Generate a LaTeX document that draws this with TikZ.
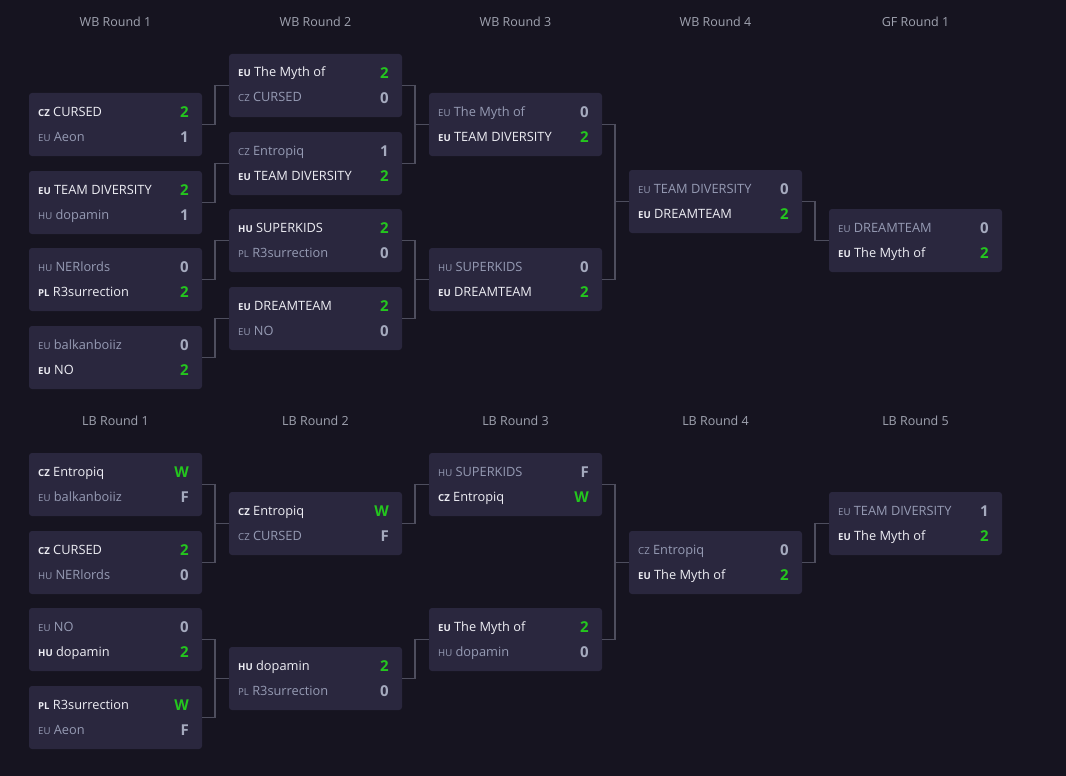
\documentclass[tikz,border=0pt]{standalone}
\usepackage{fontspec}
\setmainfont{Open Sans}
\usetikzlibrary{calc}
\definecolor{bgc}{RGB}{22,20,32}
\definecolor{boxfill}{RGB}{42,39,62}
\definecolor{linec}{RGB}{78,78,94}
\definecolor{wintext}{RGB}{238,238,244}
\definecolor{losetext}{RGB}{150,155,180}
\definecolor{losenum}{RGB}{165,170,190}
\definecolor{wingreen}{RGB}{36,198,30}
\definecolor{headtext}{RGB}{160,163,176}
\tikzset{
  match/.style={rectangle, rounded corners=3pt, fill=boxfill, minimum width=173pt, minimum height=63pt, inner sep=0pt, outer sep=0pt, anchor=north west},
  winname/.style={anchor=base west, inner sep=0pt, text=wintext, font=\fontsize{12.8}{14}\selectfont},
  losename/.style={anchor=base west, inner sep=0pt, text=losetext, font=\fontsize{12.8}{14}\selectfont},
  winscore/.style={anchor=base east, inner sep=0pt, text=wingreen, font=\fontsize{15}{16}\selectfont\bfseries},
  losescore/.style={anchor=base east, inner sep=0pt, text=losenum, font=\fontsize{15}{16}\selectfont\bfseries},
  roundlabel/.style={anchor=base, inner sep=0pt, text=headtext, font=\fontsize{12.5}{14}\selectfont},
  link/.style={draw=linec, line width=1.1pt}
}
\newcommand{\wincode}[1]{{\fontsize{9.6}{9}\selectfont\bfseries #1}}
\newcommand{\losecode}[1]{{\fontsize{9.6}{9}\selectfont #1}}
% #1 box, #2 row, #3 win/lose, #4 country, #5 team, #6 score
\newcommand{\team}[6]{%
  \node[#3name] (#1n#2) at ($(#1.north west)+(9,{25*#2-2})$) {\csname #3code\endcsname{#4}\ #5};
  \node[#3score] (#1s#2) at ($(#1.north east)+(-13,{25*#2-0.5})$) {#6};
}

\begin{document}
\begin{tikzpicture}[x=1pt, y=-1pt]
\fill[bgc] (0,0) rectangle (1066,776);
\useasboundingbox (0,0) rectangle (1066,776);

% Round labels
\node[roundlabel] (hwb1) at (115.5,26.5) {WB Round 1};
\node[roundlabel] (hwb2) at (315.5,26.5) {WB Round 2};
\node[roundlabel] (hwb3) at (515.5,26.5) {WB Round 3};
\node[roundlabel] (hwb4) at (715.5,26.5) {WB Round 4};
\node[roundlabel] (hgf1) at (915.5,26.5) {GF Round 1};
\node[roundlabel] (hlb1) at (115.5,425.5) {LB Round 1};
\node[roundlabel] (hlb2) at (315.5,425.5) {LB Round 2};
\node[roundlabel] (hlb3) at (515.5,425.5) {LB Round 3};
\node[roundlabel] (hlb4) at (715.5,425.5) {LB Round 4};
\node[roundlabel] (hlb5) at (915.5,425.5) {LB Round 5};

% Winners bracket
\node[match] (wb11) at (29,93) {};
\node[match] (wb12) at (29,171) {};
\node[match] (wb13) at (29,248) {};
\node[match] (wb14) at (29,326) {};
\node[match] (wb21) at (229,54) {};
\node[match] (wb22) at (229,132) {};
\node[match] (wb23) at (229,209) {};
\node[match] (wb24) at (229,287) {};
\node[match] (wb31) at (429,93) {};
\node[match] (wb32) at (429,248) {};
\node[match] (wb41) at (629,170) {};
\node[match] (gf1) at (829,209) {};

\team{wb11}{1}{win}{CZ}{CURSED}{2}
\team{wb11}{2}{lose}{EU}{Aeon}{1}
\team{wb12}{1}{win}{EU}{TEAM DIVERSITY}{2}
\team{wb12}{2}{lose}{HU}{dopamin}{1}
\team{wb13}{1}{lose}{HU}{NERlords}{0}
\team{wb13}{2}{win}{PL}{R3surrection}{2}
\team{wb14}{1}{lose}{EU}{balkanboiiz}{0}
\team{wb14}{2}{win}{EU}{NO}{2}
\team{wb21}{1}{win}{EU}{The Myth of}{2}
\team{wb21}{2}{lose}{CZ}{CURSED}{0}
\team{wb22}{1}{lose}{CZ}{Entropiq}{1}
\team{wb22}{2}{win}{EU}{TEAM DIVERSITY}{2}
\team{wb23}{1}{win}{HU}{SUPERKIDS}{2}
\team{wb23}{2}{lose}{PL}{R3surrection}{0}
\team{wb24}{1}{win}{EU}{DREAMTEAM}{2}
\team{wb24}{2}{lose}{EU}{NO}{0}
\team{wb31}{1}{lose}{EU}{The Myth of}{0}
\team{wb31}{2}{win}{EU}{TEAM DIVERSITY}{2}
\team{wb32}{1}{lose}{HU}{SUPERKIDS}{0}
\team{wb32}{2}{win}{EU}{DREAMTEAM}{2}
\team{wb41}{1}{lose}{EU}{TEAM DIVERSITY}{0}
\team{wb41}{2}{win}{EU}{DREAMTEAM}{2}
\team{gf1}{1}{lose}{EU}{DREAMTEAM}{0}
\team{gf1}{2}{win}{EU}{The Myth of}{2}

% Losers bracket
\node[match] (lb11) at (29,453) {};
\node[match] (lb12) at (29,531) {};
\node[match] (lb13) at (29,608) {};
\node[match] (lb14) at (29,686) {};
\node[match] (lb21) at (229,492) {};
\node[match] (lb22) at (229,647) {};
\node[match] (lb31) at (429,453) {};
\node[match] (lb32) at (429,608) {};
\node[match] (lb41) at (629,531) {};
\node[match] (lb51) at (829,492) {};

\team{lb11}{1}{win}{CZ}{Entropiq}{W}
\team{lb11}{2}{lose}{EU}{balkanboiiz}{F}
\team{lb12}{1}{win}{CZ}{CURSED}{2}
\team{lb12}{2}{lose}{HU}{NERlords}{0}
\team{lb13}{1}{lose}{EU}{NO}{0}
\team{lb13}{2}{win}{HU}{dopamin}{2}
\team{lb14}{1}{win}{PL}{R3surrection}{W}
\team{lb14}{2}{lose}{EU}{Aeon}{F}
\team{lb21}{1}{win}{CZ}{Entropiq}{W}
\team{lb21}{2}{lose}{CZ}{CURSED}{F}
\team{lb22}{1}{win}{HU}{dopamin}{2}
\team{lb22}{2}{lose}{PL}{R3surrection}{0}
\team{lb31}{1}{lose}{HU}{SUPERKIDS}{F}
\team{lb31}{2}{win}{CZ}{Entropiq}{W}
\team{lb32}{1}{win}{EU}{The Myth of}{2}
\team{lb32}{2}{lose}{HU}{dopamin}{0}
\team{lb41}{1}{lose}{CZ}{Entropiq}{0}
\team{lb41}{2}{win}{EU}{The Myth of}{2}
\team{lb51}{1}{lose}{EU}{TEAM DIVERSITY}{1}
\team{lb51}{2}{win}{EU}{The Myth of}{2}

% Links
\foreach \a/\b in {wb11/wb21, wb12/wb22, wb13/wb23, wb14/wb24,
                   wb21/wb31, wb22/wb31, wb23/wb32, wb24/wb32,
                   wb31/wb41, wb32/wb41, wb41/gf1,
                   lb11/lb21, lb12/lb21, lb13/lb22, lb14/lb22,
                   lb21/lb31, lb22/lb32, lb31/lb41, lb32/lb41, lb41/lb51}
  \draw[link] (\a.east) -- ++(13,0) |- (\b.west);

\end{tikzpicture}
\end{document}
